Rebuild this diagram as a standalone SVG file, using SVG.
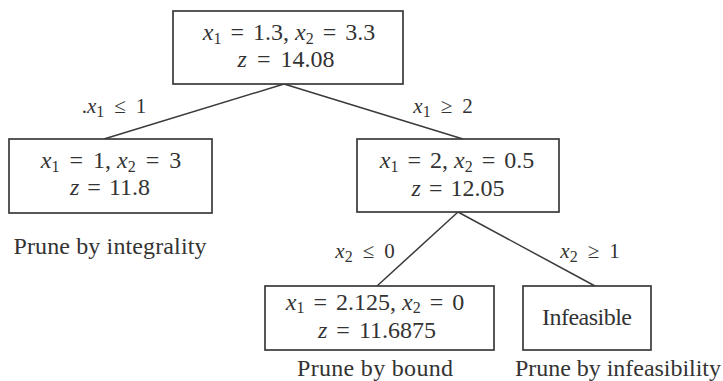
<svg xmlns="http://www.w3.org/2000/svg" width="723" height="381" viewBox="0 0 723 381">
<style>
.m{font-family:"Liberation Serif","DejaVu Serif",serif;font-size:24px;fill:#333;text-anchor:middle}
.v{font-style:italic}
.s{font-size:16px}
.lbl{font-size:21px}
.pr{font-size:24px}
.box{fill:#fff;stroke:#3a3a3a;stroke-width:1.7}
.edge{stroke:#3a3a3a;stroke-width:1.5;fill:none}
</style>
<rect width="723" height="381" fill="#fff"/>
<g id="connectors">
<line class="edge" x1="284" y1="84" x2="104" y2="139"/>
<line class="edge" x1="284" y1="84" x2="463" y2="139"/>
<line class="edge" x1="458" y1="212" x2="377" y2="286"/>
<line class="edge" x1="458" y1="212" x2="595" y2="286"/>
<text class="m lbl" x="114" y="113">.<tspan class="v">x</tspan><tspan class="s" dy="4">1</tspan><tspan dy="-4" dx="10">≤</tspan><tspan dx="10">1</tspan></text>
<text class="m lbl" x="443" y="113"><tspan class="v">x</tspan><tspan class="s" dy="4">1</tspan><tspan dy="-4" dx="10">≥</tspan><tspan dx="10">2</tspan></text>
<text class="m lbl" x="365" y="258"><tspan class="v">x</tspan><tspan class="s" dy="4">2</tspan><tspan dy="-4" dx="10">≤</tspan><tspan dx="10">0</tspan></text>
<text class="m lbl" x="590" y="258"><tspan class="v">x</tspan><tspan class="s" dy="4">2</tspan><tspan dy="-4" dx="10">≥</tspan><tspan dx="10">1</tspan></text>
</g>
<g id="root">
<rect class="box" x="173" y="11" width="230" height="73"/>
<text class="m" x="289" y="40"><tspan class="v">x</tspan><tspan class="s" dy="4">1</tspan><tspan dy="-4" dx="9">=</tspan><tspan dx="9">1.3,</tspan><tspan class="v" dx="6">x</tspan><tspan class="s" dy="4">2</tspan><tspan dy="-4" dx="9">=</tspan><tspan dx="9">3.3</tspan></text>
<text class="m" x="286" y="67"><tspan class="v">z</tspan><tspan dx="10">=</tspan><tspan dx="10">14.08</tspan></text>
</g>
<g id="left">
<rect class="box" x="9" y="139" width="203" height="74"/>
<text class="m" x="111" y="168"><tspan class="v">x</tspan><tspan class="s" dy="4">1</tspan><tspan dy="-4" dx="10">=</tspan><tspan dx="10">1,</tspan><tspan class="v" dx="6">x</tspan><tspan class="s" dy="4">2</tspan><tspan dy="-4" dx="10">=</tspan><tspan dx="10">3</tspan></text>
<text class="m" x="110" y="195"><tspan class="v">z</tspan><tspan dx="8">=</tspan><tspan dx="8">11.8</tspan></text>
<text class="m pr" x="110" y="254" textLength="193" lengthAdjust="spacing">Prune by integrality</text>
</g>
<g id="right">
<rect class="box" x="357" y="139" width="202" height="73"/>
<text class="m" x="457" y="168"><tspan class="v">x</tspan><tspan class="s" dy="4">1</tspan><tspan dy="-4" dx="9">=</tspan><tspan dx="9">2,</tspan><tspan class="v" dx="6">x</tspan><tspan class="s" dy="4">2</tspan><tspan dy="-4" dx="9">=</tspan><tspan dx="9">0.5</tspan></text>
<text class="m" x="458" y="196"><tspan class="v">z</tspan><tspan dx="8">=</tspan><tspan dx="8">12.05</tspan></text>
</g>
<g id="bound">
<rect class="box" x="265" y="286" width="229" height="64"/>
<text class="m" x="375" y="310"><tspan class="v">x</tspan><tspan class="s" dy="3">1</tspan><tspan dy="-3" dx="9">=</tspan><tspan dx="9">2.125,</tspan><tspan class="v" dx="6">x</tspan><tspan class="s" dy="3">2</tspan><tspan dy="-3" dx="9">=</tspan><tspan dx="9">0</tspan></text>
<text class="m" x="377" y="338"><tspan class="v">z</tspan><tspan dx="9">=</tspan><tspan dx="9">11.6875</tspan></text>
<text class="m pr" x="375" y="376" textLength="156" lengthAdjust="spacing">Prune by bound</text>
</g>
<g id="infeasible">
<rect class="box" x="523" y="286" width="128" height="64"/>
<text class="m" x="587" y="325" textLength="90" lengthAdjust="spacing">Infeasible</text>
<text class="m pr" x="618" y="376" textLength="206" lengthAdjust="spacing">Prune by infeasibility</text>
</g>
</svg>
